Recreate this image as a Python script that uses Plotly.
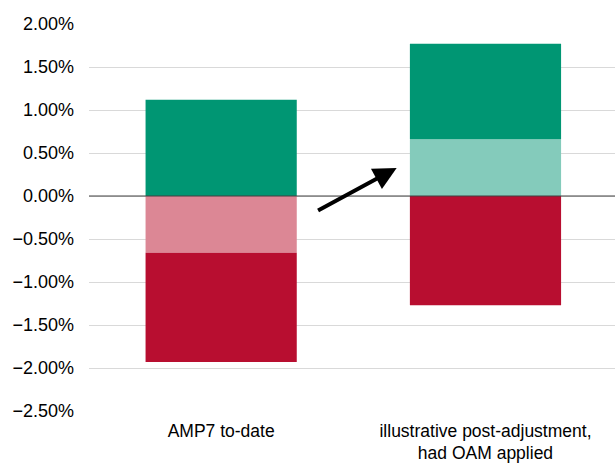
import plotly.graph_objects as go

# Categories and stacked components (as fractions of 1, shown as %)
categories = ["AMP7 to-date", "illustrative post-adjustment,<br>had OAM applied"]
oam_reward = [0.0, 0.0066]          # light green, stacked nearest zero
outperformance = [0.0112, 0.0111]   # dark green
oam_penalty = [-0.0066, 0.0]        # pink, stacked nearest zero
underperformance = [-0.0127, -0.0127]  # red

y_ticks = [0.02, 0.015, 0.01, 0.005, 0.0, -0.005, -0.01, -0.015, -0.02, -0.025]

fig = go.Figure()
fig.add_bar(x=categories, y=oam_reward, marker_color="#84CBBB", name="OAM reward")
fig.add_bar(x=categories, y=outperformance, marker_color="#009673", name="Outperformance")
fig.add_bar(x=categories, y=oam_penalty, marker_color="#DC8795", name="OAM penalty")
fig.add_bar(x=categories, y=underperformance, marker_color="#B80E30", name="Underperformance")

for tr in fig.data:
    tr.marker.line.width = 0

# zero line drawn above the bars
fig.add_shape(type="line", xref="paper", x0=0, x1=1, yref="y", y0=0, y1=0,
              line=dict(color="#404040", width=1), layer="above")

# arrow from the first bar towards the second
fig.add_annotation(x=0.664, y=0.00326, ax=0.361, ay=-0.00179,
                   xref="x", yref="y", axref="x", ayref="y",
                   text="", showarrow=True, arrowhead=2, arrowsize=1.15,
                   arrowwidth=4, arrowcolor="black", standoff=0)

fig.update_layout(
    width=615, height=466,
    barmode="relative", bargap=0.428,
    showlegend=False,
    plot_bgcolor="white", paper_bgcolor="white",
    margin=dict(l=89, r=0, t=24, b=55),
    font=dict(family="Liberation Sans, Arial, sans-serif", size=18, color="#000000"),
)
fig.update_xaxes(range=[-0.5, 1.49], showgrid=False, showline=False, ticks="",
                 automargin=False, ticklabelstandoff=7, tickfont=dict(size=17.5))
fig.update_yaxes(range=[-0.025, 0.02], tickvals=y_ticks, tickformat=".2%",
                 showgrid=True, gridcolor="#d9d9d9", gridwidth=1,
                 zeroline=False, showline=False, ticks="", automargin=False,
                 ticklabelstandoff=14, tickfont=dict(size=18))

fig.write_html("out.html")
